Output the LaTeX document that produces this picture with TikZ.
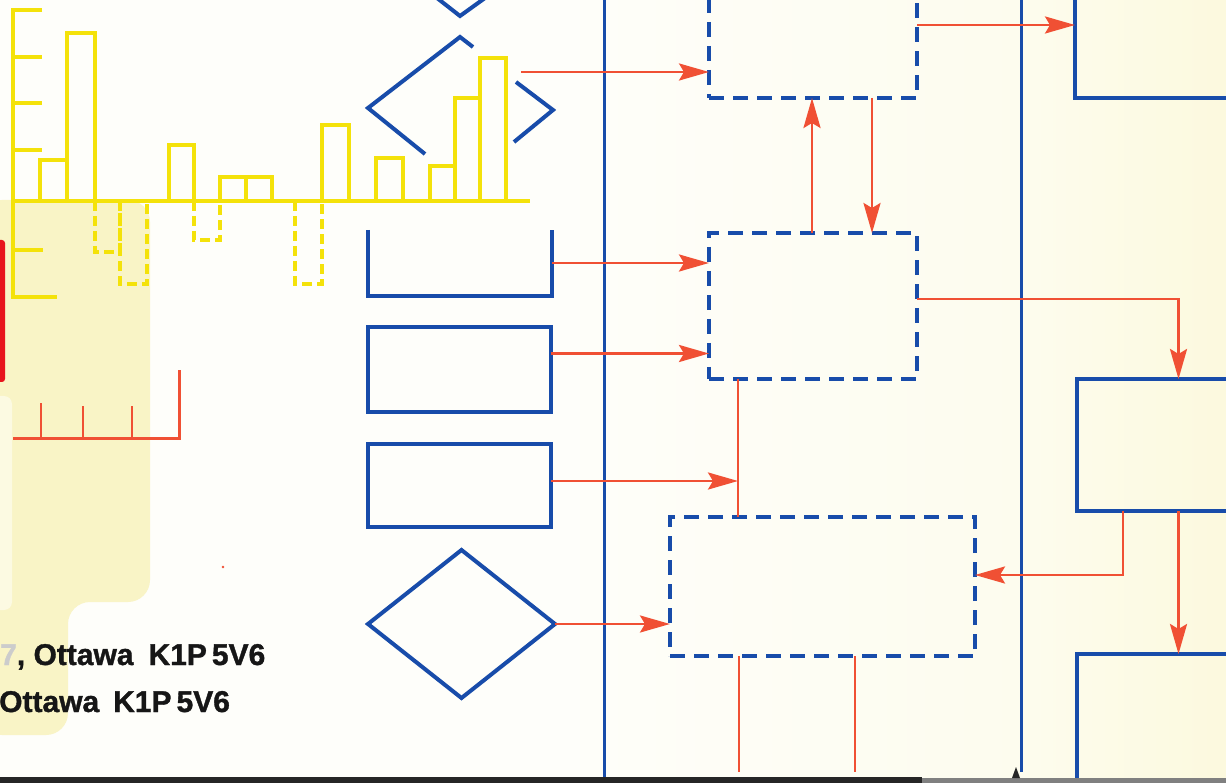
\documentclass[tikz,border=0pt]{standalone}
\usepackage{fontspec}
\setmainfont{Liberation Sans}
\newfontfamily\addrfont{Liberation Sans}[BoldFeatures={FakeBold=1.2}]
\usetikzlibrary{arrows.meta,shapes.geometric}
\definecolor{paperL}{RGB}{254,254,250}
\definecolor{paperM}{RGB}{253,252,238}
\definecolor{paperR}{RGB}{252,249,222}
\definecolor{tint}{RGB}{249,244,198}
\definecolor{tintL}{RGB}{252,250,226}
\definecolor{ylw}{RGB}{244,226,10}
\definecolor{blu}{RGB}{24,76,170}
\definecolor{rd}{RGB}{240,80,52}
\definecolor{redbar}{RGB}{232,20,28}
\definecolor{ink}{RGB}{22,22,22}

\begin{document}
\begin{tikzpicture}[x=1pt,y=-1pt,
  dbox/.style={draw=blu,line width=4pt,dash pattern=on 15pt off 9pt,inner sep=0pt,outer sep=0pt},
  sbox/.style={draw=blu,line width=4pt,inner sep=0pt,outer sep=0pt},
  frame/.style={inner sep=0pt,outer sep=0pt},
  bshape/.style={draw=blu,line width=4pt},
  vline/.style={draw=blu,line width=3pt},
  rline/.style={draw=rd,line width=2.8pt},
  rarr/.style={rline,-{Stealth[length=30pt,width=17pt,inset=5pt]}},
  yl/.style={draw=ylw,line width=3.5pt},
  ydash/.style={yl,dash pattern=on 10pt off 5pt},
  addr/.style={anchor=base west,inner sep=0pt,text=ink,font=\addrfont\fontsize{30}{36}\selectfont\bfseries}
]
\useasboundingbox (0,0) rectangle (1226,783);
\begin{scope}
\clip (0,0) rectangle (1226,783);

% paper: white on the left, cream towards the right lane
\fill[paperL] (0,0) rectangle (1226,783);
\shade[left color=paperL,right color=paperM] (560,0) rectangle (1021,783);
\shade[left color=paperM,right color=paperR] (1021,0) rectangle (1226,783);
% pale yellow panel on the left
\fill[tint,rounded corners=22pt] (-20,200) -- (150,200) -- (150,602) -- (68,602) -- (68,735) -- (-20,735) -- cycle;
\fill[tintL,rounded corners=8pt] (-20,396) rectangle (12,610);
% red edge strip
\fill[redbar,rounded corners=3pt] (-6,240) rectangle (5,382);

% lane separators
\draw[vline] (604,-2) -- (604,777);
\draw[vline] (1021,-2) -- (1021,772);

% partial symbols at the top of the left lane
\draw[bshape] (437,-2) -- (460,16) -- (485,-2);
\draw[bshape] (425,154) -- (368,108) -- (460,37) -- (473,47);
\draw[bshape] (516,82) -- (553,110) -- (514,142);
\coordinate (dout) at (521,72);

% bar chart
\draw[yl] (42,10) -- (13,10) -- (13,297) -- (57,297);
\foreach \y in {57,103,150} \draw[yl] (13,\y) -- (42,\y);
\draw[yl] (13,250) -- (43,250);
\draw[yl] (13,201) -- (530,201);
\foreach \a/\b/\t in {40/67/160, 67/95/33, 169/194/145, 220/246/177, 246/272/177,
                      322/349/125, 376/403/158, 430/455/166, 455/480/98, 480/506/58}
  \draw[yl] (\a,201) -- (\a,\t) -- (\b,\t) -- (\b,201);
\foreach \a/\b/\t in {95/120/252, 120/147/284, 194/220/240, 295/322/284}
  \draw[ydash] (\a,201) -- (\a,\t) -- (\b,\t) -- (\b,201);

% red scale
\draw[rline,line width=3pt] (13,438) -- (179,438) -- (179,370);
\foreach \x/\t in {41/403, 83/406, 132/406} \draw[rline] (\x,438) -- (\x,\t);
\fill[rd] (223,567) circle (1.3pt);

% input symbols
\node[frame,minimum width=184pt,minimum height=66pt] (store) at (460,263) {};
\draw[bshape] (store.north west) -- (store.south west) -- (store.south east) -- (store.north east);
\node[sbox,minimum width=183pt,minimum height=85pt] (rect1) at (459.5,369.5) {};
\node[sbox,minimum width=183pt,minimum height=83pt] (rect2) at (459.5,485.5) {};
\node[sbox,diamond,aspect=1.26,minimum width=187pt,minimum height=148pt] (dia) at (461.5,624) {};

% process boxes
\node[dbox,minimum width=208pt,minimum height=118pt] (boxA) at (813,39) {};
\node[dbox,minimum width=208pt,minimum height=146pt] (boxB) at (813,306) {};
\node[dbox,minimum width=305pt,minimum height=139pt] (boxC) at (822.5,586.5) {};

% output boxes
\node[sbox,minimum width=175pt,minimum height=118pt] (rtop) at (1162.5,39) {};
\node[sbox,minimum width=173pt,minimum height=132pt] (rmid) at (1163.5,445) {};
\node[sbox,minimum width=173pt,minimum height=146pt] (rbot) at (1163.5,727) {};

% flows
\draw[rarr] (dout) -- (dout -| boxA.west);
\draw[rarr] ([yshift=14pt]boxA.east) -- ([yshift=14pt]rtop.west);
\draw[rarr] ([xshift=-1pt]boxB.north) -- ([xshift=-1pt]boxA.south);
\draw[rarr] ([xshift=59pt]boxA.south) -- ([xshift=59pt]boxB.north);
\draw[rarr] (store.east) -- (store.east -| boxB.west);
\draw[rarr] ([yshift=16pt]rect1.east) -- ([yshift=16pt]rect1.east -| boxB.west);
\draw[rline] ([xshift=-75pt]boxB.south) coordinate (j1) -- (j1 |- boxC.north);
\draw[rarr] ([yshift=4.5pt]rect2.east) -- ([yshift=4.5pt]rect2.east -| j1);
\draw[rarr] (dia.east) -- (dia.east -| boxC.west);
\draw[rarr] ([yshift=7pt]boxB.east) -| ([xshift=15pt]rmid.north);
\draw[rarr] ([xshift=-40.5pt]rmid.south) |- ([yshift=11.5pt]boxC.east);
\draw[rarr] ([xshift=15pt]rmid.south) -- ([xshift=15pt]rbot.north);
\draw[rline] ([xshift=-83.5pt]boxC.south) coordinate (o1) -- (o1 |- 0,772);
\draw[rline] ([xshift=32.5pt]boxC.south) coordinate (o2) -- (o2 |- 0,772);

% address lines
\node[addr] (addr1) at (0,665) {{\color{gray!40}7}, Ottawa\hspace{15pt}K1P\hspace{5pt}5V6};
\node[addr] (addr2) at (-1,712) {Ottawa\hspace{14pt}K1P\hspace{5pt}5V6};

% bottom edge
\fill[black!85] (0,777) rectangle (922,783);
\fill[black!50] (922,778) rectangle (1226,783);
\fill[black!85] (1012,778) -- (1016,767) -- (1020,778) -- cycle;
\end{scope}
\end{tikzpicture}
\end{document}
